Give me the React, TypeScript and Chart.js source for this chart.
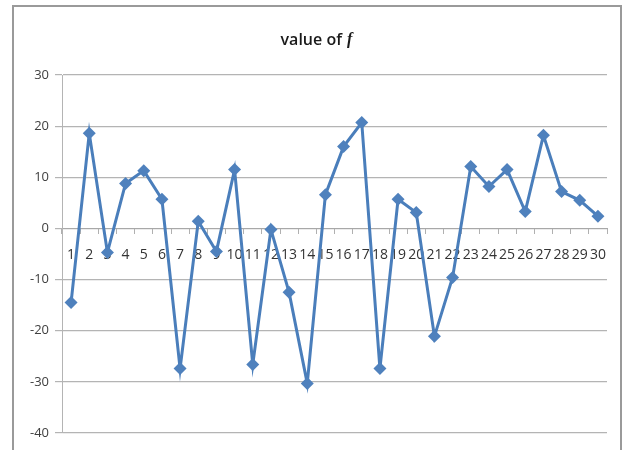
import React, { useEffect, useRef } from "react";
import { Chart, registerables } from "chart.js";

Chart.register(...registerables);

const categories = Array.from({ length: 30 }, (_, i) => String(i + 1));
const fValues = [
  -14.5, 18.6, -4.7, 8.8, 11.3, 5.7, -27.4, 1.4, -4.5, 11.5,
  -26.6, -0.2, -12.5, -30.3, 6.6, 16.0, 20.7, -27.4, 5.7, 3.1,
  -21.1, -9.6, 12.1, 8.2, 11.5, 3.3, 18.2, 7.2, 5.5, 2.4,
];
const titleMain = "value of ";
const titleItalic = "f";
const yMin = -40;
const yMax = 30;
const yStep = 10;

const FONT = "'Open Sans', 'Liberation Sans', sans-serif";

const titlePlugin = {
  id: "mixedTitle",
  afterDraw(chart: any) {
    const ctx = chart.ctx;
    ctx.save();
    ctx.fillStyle = "#1a1a1a";
    ctx.textBaseline = "middle";
    const f1 = `600 16px ${FONT}`;
    const f2 = `italic 600 16px 'Liberation Serif', serif`;
    ctx.font = f1;
    const w1 = ctx.measureText(titleMain).width;
    ctx.font = f2;
    const w2 = ctx.measureText(titleItalic).width;
    const cx = 316;
    const x0 = cx - (w1 + w2) / 2;
    ctx.font = f1;
    ctx.textAlign = "left";
    ctx.fillText(titleMain, x0, 40);
    ctx.font = f2;
    ctx.fillText(titleItalic, x0 + w1 + 1, 40);
    ctx.restore();
  },
};

export default function App() {
  const ref = useRef<HTMLCanvasElement>(null);
  useEffect(() => {
    if (!ref.current) return;
    const chart = new Chart(ref.current, {
      type: "line",
      data: {
        labels: categories,
        datasets: [
          {
            data: fValues,
            borderColor: "#4A7EBB",
            backgroundColor: "#4F81BD",
            borderWidth: 3,
            pointStyle: "rectRot",
            pointRadius: 6.5,
            pointBorderWidth: 0,
            pointBackgroundColor: "#4F81BD",
            tension: 0,
          },
        ],
      },
      plugins: [titlePlugin],
      options: {
        responsive: false,
        animation: false,
        layout: { padding: { left: 18, right: 17, top: 75, bottom: 17 } },
        plugins: { legend: { display: false }, tooltip: { enabled: false }, title: { display: false } },
        scales: {
          x: {
            type: "category",
            position: { y: 0 } as any,
            offset: true,
            grid: {
              display: true,
              drawOnChartArea: false,
              offset: true,
              tickLength: 5,
              color: "#b0b0b0",
            },
            border: { color: "#a8a8a8", width: 1 },
            ticks: {
              autoSkip: false,
              maxRotation: 0,
              minRotation: 0,
              padding: 13,
              color: "#333",
              font: { family: FONT, size: 14 },
            },
          },
          y: {
            min: yMin,
            max: yMax,
            afterFit: (s: any) => {
              s.width = 44;
            },
            ticks: {
              stepSize: yStep,
              padding: 6,
              color: "#404040",
              font: { family: FONT, size: 13 },
            },
            grid: { color: "#b4b4b4", lineWidth: 1.2, tickLength: 7 },
            border: { color: "#b4b4b4", width: 1 },
          },
        },
      },
    });
    return () => chart.destroy();
  }, []);
  return (
    <div style={{ position: "absolute", left: 0, top: 0, width: 624, height: 450, background: "#fff", overflow: "hidden" }}>
      <div
        style={{
          position: "absolute",
          left: 12,
          top: 5,
          width: 610,
          height: 470,
          border: "2px solid #9a9a9a",
          boxSizing: "border-box",
        }}
      />
      <canvas ref={ref} width={624} height={450} style={{ position: "absolute", left: 0, top: 0 }} />
    </div>
  );
}
